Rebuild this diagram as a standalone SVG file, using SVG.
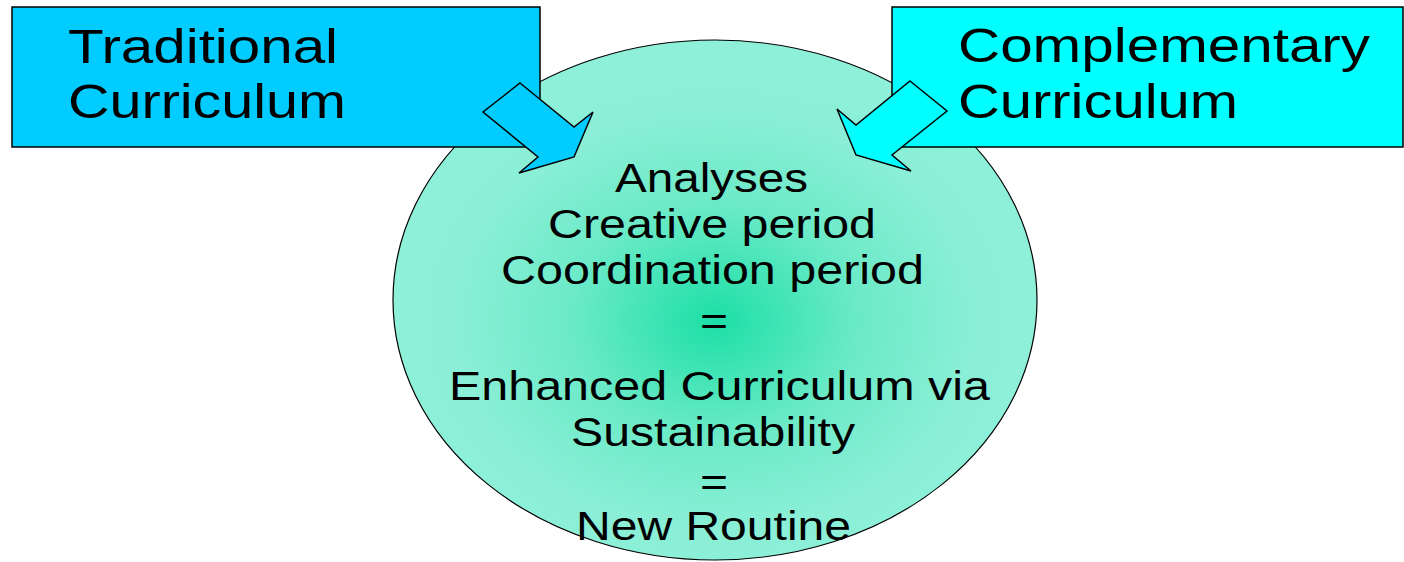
<svg xmlns="http://www.w3.org/2000/svg" width="1404" height="562" viewBox="0 0 1404 562">
  <style>
    .box { stroke: #000; stroke-width: 1.5; }
    .arrow { stroke: #000; stroke-width: 1.5; stroke-linejoin: miter; }
    .title { font-family: "Liberation Sans", Arial, sans-serif; font-size: 48px; fill: #000; }
    .body { font-family: "Liberation Sans", Arial, sans-serif; font-size: 40px; fill: #000; }
  </style>
  <defs>
    <radialGradient id="glow" cx="0.5" cy="0.54" r="0.5" fx="0.5" fy="0.54">
      <stop offset="0" stop-color="#1CDFA6"/>
      <stop offset="0.45" stop-color="#6CEAC8"/>
      <stop offset="0.8" stop-color="#8AEFD6"/>
      <stop offset="1" stop-color="#8EF0D9"/>
    </radialGradient>
  </defs>

  <rect width="1404" height="562" fill="#fff"/>

  <!-- central circle with the process text -->
  <g id="process">
    <ellipse cx="715" cy="300" rx="322" ry="260" fill="url(#glow)" stroke="#000" stroke-width="1.2"/>
    <text class="body" x="615" y="192" textLength="193" lengthAdjust="spacingAndGlyphs">Analyses</text>
    <text class="body" x="548" y="238" textLength="328" lengthAdjust="spacingAndGlyphs">Creative period</text>
    <text class="body" x="501" y="284" textLength="423" lengthAdjust="spacingAndGlyphs">Coordination period</text>
    <text class="body" x="700" y="335" textLength="28" lengthAdjust="spacingAndGlyphs">=</text>
    <text class="body" x="449" y="400" textLength="541" lengthAdjust="spacingAndGlyphs">Enhanced Curriculum via</text>
    <text class="body" x="571" y="446" textLength="284" lengthAdjust="spacingAndGlyphs">Sustainability</text>
    <text class="body" x="700" y="496" textLength="28" lengthAdjust="spacingAndGlyphs">=</text>
    <text class="body" x="576" y="540" textLength="275" lengthAdjust="spacingAndGlyphs">New Routine</text>
  </g>

  <!-- source boxes -->
  <g id="traditional">
    <rect class="box" x="12" y="7" width="528" height="140" fill="#00CCFF"/>
    <text class="title" x="68" y="63" textLength="270" lengthAdjust="spacingAndGlyphs">Traditional</text>
    <text class="title" x="68" y="118" textLength="278" lengthAdjust="spacingAndGlyphs">Curriculum</text>
  </g>

  <g id="complementary">
    <rect class="box" x="892" y="7" width="511" height="140" fill="#00FFFF"/>
    <text class="title" x="958" y="62" textLength="412" lengthAdjust="spacingAndGlyphs">Complementary</text>
    <text class="title" x="958" y="118" textLength="280" lengthAdjust="spacingAndGlyphs">Curriculum</text>
  </g>

  <!-- block arrows feeding into the circle -->
  <g id="connectors">
    <polygon class="arrow" fill="#00CCFF" points="520,83 574,127 593,112 574,157 519,173 538,157 483,112"/>
    <polygon class="arrow" fill="#00FFFF" points="910,81 947,111 892,155 911,171 856,155 837,109 856,125"/>
  </g>
</svg>
